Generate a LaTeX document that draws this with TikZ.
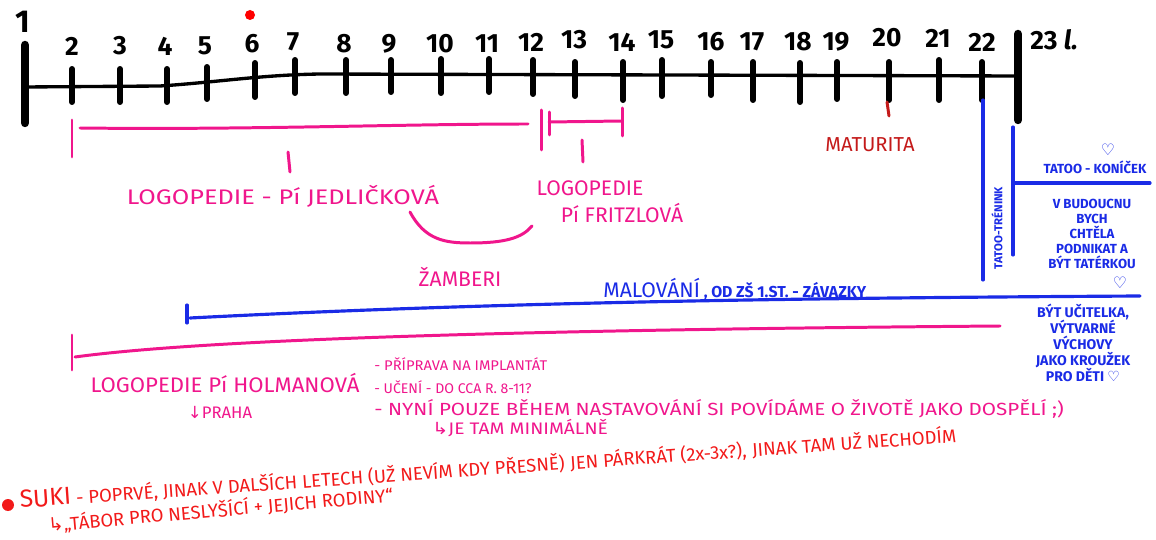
\documentclass[tikz,border=0pt]{standalone}
\usepackage{fontspec}
\setmainfont{Fira Sans}
\newfontfamily\symfont{DejaVu Sans}
\definecolor{lpink}{HTML}{F0168C}
\definecolor{lblue}{HTML}{1A2BE6}
\definecolor{lred}{HTML}{F21A1A}
\definecolor{dred}{HTML}{C41A1A}
\tikzset{
  tickmark/.style={line width=3.4pt, line cap=round},
  endbar/.style={line width=4.8pt, line cap=round},
  num/.style={inner sep=0pt, font=\fontsize{15}{15}\selectfont\bfseries},
  pinkline/.style={lpink, line width=1.7pt, line cap=round},
  blueline/.style={lblue, line width=1.8pt, line cap=round},
  pinktext/.style={lpink, inner sep=0pt, font=\fontsize{12}{14}\selectfont},
  smallpink/.style={lpink, inner sep=0pt, font=\fontsize{8}{10}\selectfont},
  bluetext/.style={lblue, inner sep=0pt, align=center, font=\fontsize{7.5}{8.5}\selectfont\bfseries},
  redtext/.style={lred, inner sep=0pt, font=\fontsize{10.5}{12}\selectfont}
}

\begin{document}
\begin{tikzpicture}[x=0.02cm,y=-0.02cm]
\useasboundingbox (0,0) rectangle (1156,540);

% time axis
\draw[line width=1.9pt, line cap=round] (25,87) -- (160,86) .. controls (220,82) and (260,75) .. (320,74) -- (1018,76);
\draw[endbar] (25,45) -- (25,123);
\draw[endbar] (1018,34) -- (1018,120);
\node[num, font=\fontsize{18}{18}\selectfont\bfseries] (n1) at (23,22) {1};
\fill[red] (250,15) circle (5);

\draw[tickmark] (72,69) -- (72,102);   \node[num] (n2) at (72,46) {2};
\draw[tickmark] (120,69) -- (120,102); \node[num] (n3) at (120,46) {3};
\draw[tickmark] (167,69) -- (167,102); \node[num] (n4) at (165,46) {4};
\draw[tickmark] (207,67) -- (207,99);  \node[num] (n5) at (205,46) {5};
\draw[tickmark] (255,63) -- (255,97);  \node[num] (n6) at (252,44) {6};
\draw[tickmark] (295,60) -- (295,93);  \node[num] (n7) at (293,42) {7};
\draw[tickmark] (346,60) -- (346,93);  \node[num] (n8) at (344,44) {8};
\draw[tickmark] (391,60) -- (391,92);  \node[num] (n9) at (389,44) {9};
\draw[tickmark] (441,59) -- (441,93);  \node[num] (n10) at (440,44) {10};
\draw[tickmark] (489,59) -- (489,92);  \node[num] (n11) at (487,44) {11};
\draw[tickmark] (533,60) -- (533,94);  \node[num] (n12) at (531,42) {12};
\draw[tickmark] (575,62) -- (575,96);  \node[num] (n13) at (574,40) {13};
\draw[tickmark] (623,62) -- (623,100); \node[num] (n14) at (622,42) {14};
\draw[tickmark] (662,60) -- (662,96);  \node[num] (n15) at (661,40) {15};
\draw[tickmark] (711,62) -- (711,95);  \node[num] (n16) at (711,42) {16};
\draw[tickmark] (753,62) -- (753,100); \node[num] (n17) at (752,42) {17};
\draw[tickmark] (800,63) -- (800,102); \node[num] (n18) at (798,42) {18};
\draw[tickmark] (837,62) -- (837,99);  \node[num] (n19) at (836,42) {19};
\draw[tickmark] (889,62) -- (889,100); \node[num] (n20) at (887,38) {20};
\draw[tickmark] (939,60) -- (939,100); \node[num] (n21) at (938,38) {21};
\draw[tickmark] (982,62) -- (982,100); \node[num] (n22) at (982,42) {22};
\node[num, anchor=west] (n23) at (1030,40) {23 \textit{l.}};

% logopedie - Jedlickova, Fritzlova
\draw[pinkline] (72,120) -- (72,157);
\draw[pinkline] (80,128) .. controls (250,130) and (400,124) .. (528,124);
\draw[pinkline] (288,152) -- (290,172);
\node[pinktext, xscale=1.2] (jed) at (283,196) {LOGOPEDIE - Pí JEDLIČKOVÁ};
\draw[pinkline] (541,110) -- (541,150);
\draw[pinkline] (549,112) -- (549,135);
\draw[pinkline] (549,122) -- (622,121);
\draw[pinkline] (622,108) -- (622,136);
\draw[pinkline] (582,140) -- (583,162);
\node[pinktext] (fri1) at (590,188) {LOGOPEDIE};
\node[pinktext] (fri2) at (622,213) {Pí FRITZLOVÁ};
\draw[pinkline] (410,212) .. controls (425,240) and (445,243) .. (470,243) .. controls (505,243) and (522,238) .. (532,226);
\node[pinktext] (zam) at (460,277) {ŽAMBERI};

% maturita
\draw[dred, line width=1.7pt, line cap=round] (887,102) -- (889,116);
\node[pinktext, dred, font=\fontsize{11.5}{12}\selectfont] (mat) at (870,145) {MATURITA};

% tatoo
\draw[blueline] (983,100) -- (983,280);
\draw[blueline] (1013,127) -- (1013,255);
\draw[blueline] (1013,183) -- (1150,183);
\node[bluetext, rotate=90, font=\fontsize{6.5}{7}\selectfont\bfseries] (tre) at (997,228) {TATOO-TRÉNINK};
\node[bluetext, font=\fontsize{9}{9}\selectfont\symfont] (h1) at (1108,150) {♡};
\node[bluetext] (kon) at (1095,167) {TATOO - KONÍČEK};
\node[bluetext] (bud) at (1092,234) {V BUDOUCNU\\BYCH\\CHTĚLA\\PODNIKAT A\\BÝT TATÉRKOU};
\node[bluetext, font=\fontsize{9}{9}\selectfont\symfont] (h2) at (1120,283) {♡};

% malovani
\draw[blueline] (187,305) -- (187,323);
\draw[blueline] (190,318) .. controls (500,302) and (800,298) .. (1140,296);
\node[lblue, inner sep=0pt, anchor=west] (mal) at (603,289) {{\fontsize{12}{12}\selectfont MALOVÁNÍ}{\fontsize{9}{9}\selectfont\bfseries\ , OD ZŠ 1.ST. - ZÁVAZKY}};
\node[bluetext, font=\fontsize{8}{9.2}\selectfont\bfseries] (uci) at (1083,343) {BÝT UČITELKA,\\VÝTVARNÉ\\VÝCHOVY\\JAKO KROUŽEK\\PRO DĚTI {\symfont ♡}};

% logopedie - Holmanova
\draw[pinkline] (72,335) -- (72,370);
\draw[pinkline] (75,357) .. controls (200,340) and (500,330) .. (1000,326);
\node[pinktext, xscale=1.05] (hol) at (225,383) {LOGOPEDIE Pí HOLMANOVÁ};
\node[smallpink, font=\fontsize{9.5}{10}\selectfont] (pra) at (220,412) {{\symfont ↓}PRAHA};
\node[smallpink, anchor=west, xscale=1.05] (l1) at (374,364) {- PŘÍPRAVA NA IMPLANTÁT};
\node[smallpink, anchor=west] (l2) at (374,387) {- UČENÍ - DO CCA R. 8-11?};
\node[smallpink, anchor=west, font=\fontsize{10}{11}\selectfont, xscale=1.17] (l3) at (374,409) {- NYNÍ POUZE BĚHEM NASTAVOVÁNÍ SI POVÍDÁME O ŽIVOTĚ JAKO DOSPĚLÍ ;)};
\node[smallpink, anchor=west, font=\fontsize{9.5}{10}\selectfont, xscale=1.15] (l4) at (432,428) {{\symfont ↳}JE TAM MINIMÁLNĚ};

% suki
\fill[lred] (8,505) circle (6);
\node[redtext, anchor=base west, rotate=4] (suk1) at (20,508) {{\fontsize{14}{14}\selectfont SUKI} - POPRVÉ, JINAK V DALŠÍCH LETECH (UŽ NEVÍM KDY PŘESNĚ)};
\node[redtext, anchor=base west, rotate=4] (suk2) at (suk1.base east) {\ JEN PÁRKRÁT (2x-3x?),};
\node[redtext, anchor=base west, rotate=4] (suk3) at (suk2.base east) {\ JINAK TAM UŽ NECHODÍM};
\node[redtext, anchor=west, rotate=5] (tab) at (48,525) {{\symfont ↳}„TÁBOR PRO NESLYŠÍCÍ + JEJICH RODINY“};
\end{tikzpicture}
\end{document}
